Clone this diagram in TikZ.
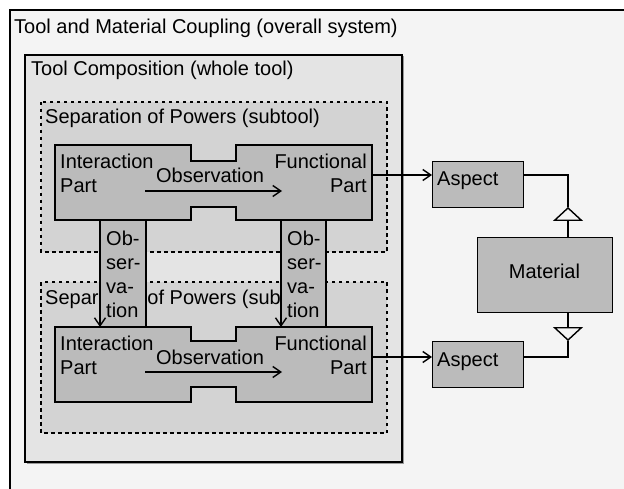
\documentclass[tikz,border=0pt]{standalone}
\usepackage{fontspec}
\setmainfont{Liberation Sans}
\usetikzlibrary{arrows.meta}
\definecolor{bgout}{HTML}{F4F4F4}
\definecolor{bgcomp}{HTML}{E4E4E4}
\definecolor{bgsep}{HTML}{D3D3D3}
\definecolor{bgpart}{HTML}{BBBBBB}
\begin{document}
\begin{tikzpicture}[x=1pt,y=-1pt,
  font=\fontsize{20}{24}\selectfont,
  txt/.style={inner sep=0pt,anchor=base west},
  frame/.style={draw=black,line width=1.6pt},
  sepbox/.style={draw=black,fill=bgsep,line width=1.5pt,dash pattern=on 3.5pt off 3.5pt},
  partshape/.style={draw=black,fill=bgpart,line width=1.4pt},
  abox/.style={draw=black,fill=bgpart,line width=1.4pt,anchor=north west,inner sep=0pt},
  arr/.style={line width=1.4pt,-{Straight Barb[length=8pt,width=11pt,line width=1.4pt]}},
  conn/.style={line width=1.4pt},
  tri/.style={line width=1.4pt,-{Triangle[open,length=14pt,width=30pt,line width=1.4pt]}}]
\useasboundingbox (0,0) rectangle (624,489);
\fill[white] (0,0) rectangle (624,489);
\clip (0,0) rectangle (624,489);
% outer system
\draw[frame,fill=bgout] (10,10) rectangle (650,520);
\node[txt] (ttl) at (14,34) {Tool and Material Coupling (overall system)};
% tool composition
\fill[black!40] (26.5,56.5) rectangle (403.5,463.5);
\draw[frame,fill=bgcomp] (25,55) rectangle (402,462);
\node[txt] (tcl) at (31,76) {Tool Composition (whole tool)};
% separation of powers boxes
\draw[sepbox] (41,102) rectangle (387,252);
\node[txt] (sp1) at (45,124) {Separation of Powers (subtool)};
\draw[sepbox] (41,282) rectangle (387,433);
\node[txt] (sp2) at (45,305) {Separation of Powers (subtool)};
% observation columns
\draw[partshape] (100,220) rectangle (146,327);
\draw[partshape] (281,220) rectangle (326,327);
\node[txt,align=left] (oc1) at (106,317) {Ob-\\ser-\\va-\\tion};
\node[txt,align=left] (oc2) at (287,317) {Ob-\\ser-\\va-\\tion};
% parts
\draw[partshape] (55,145) -- (191,145) -- (191,161) -- (236,161) -- (236,145) -- (372,145)
  -- (372,220) -- (236,220) -- (236,207) -- (191,207) -- (191,220) -- (55,220) -- cycle;
\draw[partshape] (55,327) -- (191,327) -- (191,341) -- (236,341) -- (236,327) -- (372,327)
  -- (372,402) -- (236,402) -- (236,387) -- (191,387) -- (191,402) -- (55,402) -- cycle;
\coordinate (ip1) at (145,191);
\coordinate (fp1) at (282,191);
\coordinate (ip2) at (145,372);
\coordinate (fp2) at (282,372);
\coordinate (top1l) at (100,220);
\coordinate (top1r) at (281,220);
\coordinate (bot2l) at (100,327);
\coordinate (bot2r) at (281,327);
\node[txt,align=left] (it1) at (60,193) {Interaction\\Part};
\node[txt,align=right,anchor=base east] (ft1) at (367,193) {Functional\\Part};
\node[txt,align=left] (it2) at (60,374) {Interaction\\Part};
\node[txt,align=right,anchor=base east] (ft2) at (367,374) {Functional\\Part};
\node[inner sep=0pt,anchor=base] (ob1) at (210,183) {Observation};
\node[inner sep=0pt,anchor=base] (ob2) at (210,364) {Observation};
\draw[arr] (ip1) -- (fp1);
\draw[arr] (ip2) -- (fp2);
\draw[arr] (top1l) -- (bot2l);
\draw[arr] (top1r) -- (bot2r);
% aspects and material
\node[abox,minimum width=91pt,minimum height=46pt] (asp1) at (432,161) {};
\node[abox,minimum width=91pt,minimum height=46pt] (asp2) at (432,341) {};
\node[txt] (at1) at (437,186) {Aspect};
\node[txt] (at2) at (437,366) {Aspect};
\node[abox,minimum width=135pt,minimum height=75pt] (mat) at (477,237) {};
\node[inner sep=0pt,anchor=base] (mt) at (544.5,279) {Material};
\coordinate (out1) at (372,175);
\coordinate (out2) at (372,357);
\coordinate (t1) at (568,207);
\coordinate (t2) at (568,341);
\draw[arr] (out1) -- (out1 -| asp1.west);
\draw[arr] (out2) -- (out2 -| asp2.west);
\draw[conn] (out1 -| asp1.east) -| (t1);
\draw[conn] (out2 -| asp2.east) -| (t2);
\draw[tri] (mat.north -| t1) -- (t1);
\draw[tri] (mat.south -| t2) -- (t2);
\end{tikzpicture}
\end{document}
